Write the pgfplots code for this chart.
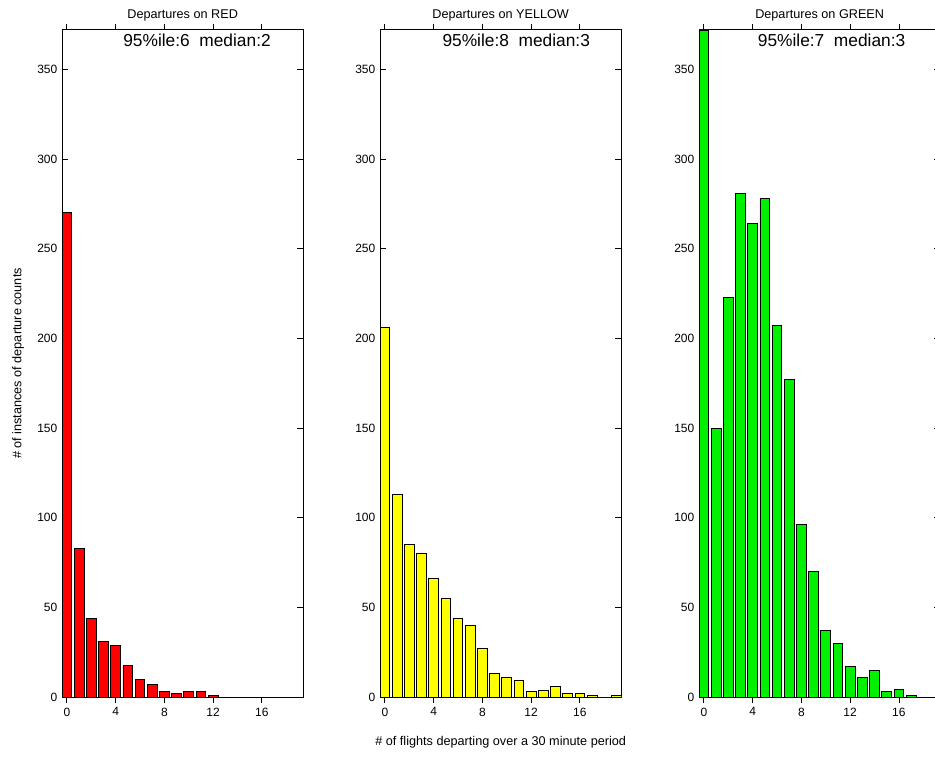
\documentclass[border=0pt]{standalone}
\usepackage{pgfplots}
\pgfplotsset{compat=1.18}
\usepackage{fontspec}
\setmainfont{Liberation Sans}
\definecolor{barred}{rgb}{1,0,0}
\definecolor{baryellow}{rgb}{1,1,0}
\definecolor{bargreen}{rgb}{0,0.94,0}
\pgfplotsset{
  panel/.style={
    scale only axis, width=181pt, height=500.25pt,
    xmin=-0.4, xmax=19.4, ymin=0, ymax=372,
    xtick={0,4,8,12,16}, ytick={0,50,...,350},
    tick align=inside, major tick length=4.5pt,
    axis line style={line width=0.75pt},
    tick style={black, line width=0.6pt},
    every tick label/.append style={font=\fontsize{9}{11}\selectfont},
    /pgf/number format/assume math mode=true,
    title style={font=\fontsize{9.5}{11}\selectfont, yshift=-3pt},
    label style={font=\fontsize{9.5}{11}\selectfont},
    xlabel style={yshift=-8pt},
    ylabel style={yshift=3pt},
    ybar, bar width=0.8,
    anchor=south west,
  },
  bars/.style={fill=#1, draw=black, line width=0.6pt},
}
\begin{document}
\begin{tikzpicture}
\path[use as bounding box] (0,0) rectangle (701.25pt,573.75pt);
\clip (0,0) rectangle (701.25pt,573.75pt);
% RED
\begin{axis}[panel, at={(46.5pt,51pt)}, title={Departures on RED},
  ylabel={\# of instances of departure counts}]
\addplot[bars=barred] coordinates {
(0,270) (1,83) (2,44) (3,31) (4,29) (5,17.5) (6,10) (7,7) (8,3) (9,2)
(10,3) (11,3) (12,1)};
\node[anchor=north west, font=\fontsize{13}{15}\selectfont, inner sep=1pt, yshift=-2pt] at (axis cs:4.5,372) {95\%ile:6\ \ median:2};
\end{axis}
% YELLOW
\begin{axis}[panel, at={(285pt,51pt)}, title={Departures on YELLOW},
  xlabel={\# of flights departing over a 30 minute period}]
\addplot[bars=baryellow] coordinates {
(0,206) (1,113) (2,85) (3,80) (4,66) (5,55) (6,44) (7,40) (8,27) (9,13)
(10,11) (11,9) (12,3) (13,3.5) (14,6) (15,2) (16,2) (17,0.7) (18,0) (19,0.7)};
\node[anchor=north west, font=\fontsize{13}{15}\selectfont, inner sep=1pt, yshift=-2pt] at (axis cs:4.6,372) {95\%ile:8\ \ median:3};
\end{axis}
% GREEN
\begin{axis}[panel, at={(524.25pt,51pt)}, title={Departures on GREEN}]
\addplot[bars=bargreen] coordinates {
(0,372) (1,150) (2,223) (3,281) (4,264) (5,278) (6,207) (7,177) (8,96) (9,70)
(10,37) (11,30) (12,17) (13,11) (14,15) (15,3) (16,4) (17,0.7)};
\node[anchor=north west, font=\fontsize{13}{15}\selectfont, inner sep=1pt, yshift=-2pt] at (axis cs:4.3,372) {95\%ile:7\ \ median:3};
\end{axis}
\end{tikzpicture}
\end{document}
